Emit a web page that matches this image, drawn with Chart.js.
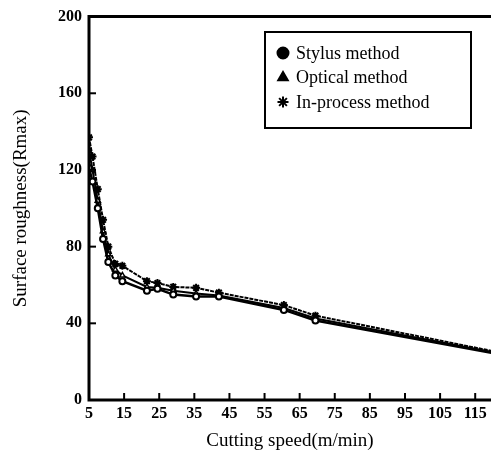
<!DOCTYPE html>
<html>
<head>
<meta charset="utf-8">
<script src="https://cdn.jsdelivr.net/npm/chart.js@4/dist/chart.umd.min.js"></script>
<style>
  html, body { margin: 0; padding: 0; background: #fff; }
  #wrap { width: 491px; height: 462px; }
</style>
</head>
<body>
<div id="wrap"><canvas id="grafica" width="491" height="462"></canvas></div>
<script>
// valores
const velocidades = [5, 6, 7.5, 9, 10.5, 12.5, 14.5, 21.5, 24.5, 29, 35.5, 42, 60.5, 69.5, 120];
const stylus    = [121, 114, 100, 84, 72, 65, 62, 57, 58, 55, 54, 54, 47, 41.5, 24.5];
const optical   = [130, 120, 104, 88, 76, 68, 65, 59, 58.5, 57, 55.5, 54.5, 48, 42.5, 25];
const inProcess = [137, 127, 110, 94, 80, 71, 70, 62, 61, 59, 58.5, 56, 49.5, 44, 25.5];
const xTicks = [5, 15, 25, 35, 45, 55, 65, 75, 85, 95, 105, 115];
const yTicks = [0, 40, 80, 120, 160, 200];
const nombres = ["Stylus method", "Optical method", "In-process method"];

const serif = "'Liberation Serif', 'DejaVu Serif', serif";
const toPts = arr => arr.map((v, i) => ({ x: velocidades[i], y: v }));
const radios = velocidades.map((v, i) => i === velocidades.length - 1 ? 0 : 3);

// ejes con marcas hacia dentro, marco y leyenda dentro del area
const marcoPlugin = {
    id: "marco",
    afterDraw(chart) {
        const ctx = chart.ctx, a = chart.chartArea;
        const xs = chart.scales.x, ys = chart.scales.y;
        ctx.save();
        ctx.strokeStyle = "#000";
        ctx.lineWidth = 3;
        ctx.beginPath();
        ctx.moveTo(a.right, a.top); ctx.lineTo(a.left, a.top);
        ctx.lineTo(a.left, a.bottom); ctx.lineTo(a.right, a.bottom);
        ctx.stroke();
        ctx.lineWidth = 2;
        xTicks.slice(1).forEach(t => {
            const px = xs.getPixelForValue(t);
            ctx.beginPath(); ctx.moveTo(px, a.bottom); ctx.lineTo(px, a.bottom - 7); ctx.stroke();
        });
        yTicks.slice(1, -1).forEach(t => {
            const py = ys.getPixelForValue(t);
            ctx.beginPath(); ctx.moveTo(a.left, py); ctx.lineTo(a.left + 7, py); ctx.stroke();
        });
        // leyenda
        const bx = 265, by = 32, bw = 206, bh = 96;
        ctx.lineWidth = 2;
        ctx.strokeRect(bx, by, bw, bh);
        const estilos = ["circle", "triangle", "star"];
        ctx.font = "18px " + serif;
        ctx.textBaseline = "middle";
        nombres.forEach((n, i) => {
            const yy = by + 21 + i * 24.5;
            ctx.fillStyle = "#000";
            ctx.strokeStyle = "#000";
            ctx.lineWidth = 2;
            Chart.helpers.drawPoint(ctx, { pointStyle: estilos[i], radius: 5.5, rotation: 0, borderWidth: 2 }, bx + 18, yy);
            ctx.fillText(n, bx + 31, yy + 1);
        });
        ctx.restore();
    }
};

new Chart(document.getElementById("grafica"), {
    type: "line",
    data: {
        datasets: [
            { label: nombres[0], data: toPts(stylus), borderColor: "#000", borderWidth: 2.5,
              pointStyle: "circle", pointRadius: radios, pointBackgroundColor: "#fff", pointBorderColor: "#000", pointBorderWidth: 2 },
            { label: nombres[1], data: toPts(optical), borderColor: "#000", borderWidth: 2,
              pointStyle: "triangle", pointRadius: radios, pointBackgroundColor: "#fff", pointBorderColor: "#000", pointBorderWidth: 1.5 },
            { label: nombres[2], data: toPts(inProcess), borderColor: "#000", borderWidth: 2, borderDash: [4, 1],
              pointStyle: "star", pointRadius: radios.map(r => r ? 4 : 0), pointBorderColor: "#000", pointBorderWidth: 2 }
        ]
    },
    options: {
        responsive: false,
        animation: false,
        layout: { autoPadding: false, padding: { top: 16, right: 0, left: 0, bottom: 0 } },
        plugins: { legend: { display: false }, tooltip: { enabled: false } },
        scales: {
            x: {
                type: "linear", min: 5, max: 119.5,
                grid: { display: false, drawTicks: false },
                border: { display: false },
                afterBuildTicks: s => { s.ticks = xTicks.map(v => ({ value: v })); },
                afterFit: s => { s.height = 62; s.paddingRight = 0; s.paddingLeft = 0; },
                ticks: { color: "#000", font: { family: serif, size: 16, weight: "bold" }, padding: 4, maxRotation: 0, autoSkip: false },
                title: { display: true, text: "Cutting speed(m/min)", color: "#000",
                         font: { family: serif, size: 19 }, padding: { top: 4, bottom: 10 } }
            },
            y: {
                min: 0, max: 200,
                grid: { display: false, drawTicks: false },
                border: { display: false },
                afterBuildTicks: s => { s.ticks = yTicks.map(v => ({ value: v })); },
                afterFit: s => { s.width = 89; },
                ticks: { color: "#000", font: { family: serif, size: 16, weight: "bold" }, padding: 7 },
                title: { display: true, text: "Surface roughness(Rmax)", color: "#000",
                         font: { family: serif, size: 19 }, padding: { top: 10, bottom: 0 } }
            }
        }
    },
    plugins: [marcoPlugin]
});
</script>
</body>
</html>
